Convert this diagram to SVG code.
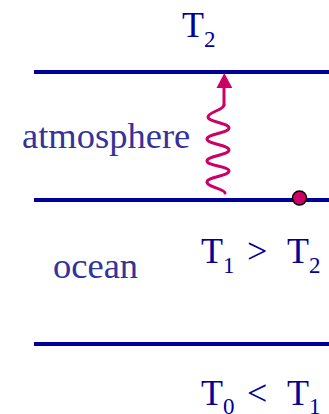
<svg xmlns="http://www.w3.org/2000/svg" width="329" height="414" viewBox="0 0 329 414">
<defs>
<style>
.ln{stroke:#000099;stroke-width:4;fill:none}
.t{font-family:'Liberation Serif','Times New Roman',serif;fill:#000099;font-size:36px}
.s{font-size:23px}
.lb{font-family:'Liberation Serif','Times New Roman',serif;fill:#333399;font-size:36.5px}
.w{stroke:#cc0066;stroke-width:3;fill:none;stroke-linecap:round}
</style>
</defs>
<rect width="329" height="414" fill="#ffffff"/>
<g id="connectors">
<path class="w" d="M224,105 C224,110 208,112 208,117 C208,122 229,123 229,128 C229,133 207,134 207,139 C207,144 229,145 229,150 C229,155 207,156 207,161 C207,166 229,166 229,171 C229,176 207,177 207,182 C207,187 225,189 225,193"/>
<line class="w" x1="224" y1="105" x2="224" y2="86" stroke-linecap="butt"/>
<polygon points="224.3,73 216.5,88 232.3,88" fill="#cc0066"/>
</g>
<g id="boundary-top"><line class="ln" x1="34" y1="72" x2="329" y2="72"/></g>
<g id="boundary-middle"><line class="ln" x1="34" y1="200" x2="329" y2="200"/></g>
<g id="boundary-bottom"><line class="ln" x1="34" y1="344" x2="329" y2="344"/></g>
<g id="dot"><circle cx="299.5" cy="198" r="7" fill="#cc0066" stroke="#000000" stroke-width="1.5"/></g>
<g id="label-T2"><text class="t" x="182" y="37">T<tspan class="s" dy="10">2</tspan></text></g>
<g id="label-atmosphere"><text class="lb" x="22" y="148">atmosphere</text></g>
<g id="label-ocean"><text class="lb" x="53" y="278">ocean</text></g>
<g id="label-T1-gt-T2"><text class="t" x="201" y="263">T<tspan class="s" dy="10">1</tspan><tspan dy="-10" x="247">&gt;</tspan><tspan x="287">T</tspan><tspan class="s" dy="10">2</tspan></text></g>
<g id="label-T0-lt-T1"><text class="t" x="201" y="405">T<tspan class="s" dy="9">0</tspan><tspan dy="-9" x="247">&lt;</tspan><tspan x="287">T</tspan><tspan class="s" dy="9">1</tspan></text></g>
</svg>
